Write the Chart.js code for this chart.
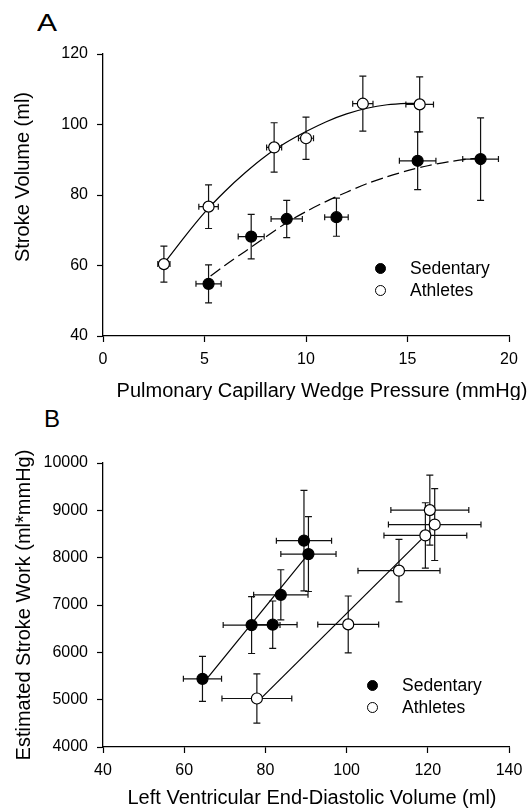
<!DOCTYPE html>
<html>
<head>
<meta charset="utf-8">
<script src="https://cdn.jsdelivr.net/npm/chart.js@4.4.1/dist/chart.umd.min.js"></script>
<style>
  body { margin: 0; background: #fff; }
  #wrap { position: relative; width: 532px; height: 811px; font-family: "Liberation Sans", Arial, sans-serif; color: #000; }
  canvas { position: absolute; left: 0; }
  .panel { position: absolute; font-size: 24px; line-height: 24px; }
  .legend { position: absolute; font-size: 17.5px; line-height: 21px; }
  .legend div { display: flex; align-items: center; height: 22px; }
  .mark { width: 9px; height: 9px; border-radius: 50%; border: 1.3px solid #000; margin-right: 24px; }
</style>
</head>
<body>
<div id="wrap">
  <div class="panel" style="left:37px; top:11px; transform:scaleX(1.25); transform-origin:left;">A</div>
  <div class="panel" style="left:44px; top:407px;">B</div>
  <canvas id="chartA" width="532" height="400" style="top:0"></canvas>
  <canvas id="chartB" width="532" height="411" style="top:400px"></canvas>
  <div class="legend" id="legendA" style="left:375px; top:257px;"></div>
  <div class="legend" id="legendB" style="left:367px; top:674px;"></div>
</div>
<script>
// series names and marker fills
const groups = ["Sedentary", "Athletes"];
const groupFill = ["#000", "#fff"];

// Panel A: PCWP (mmHg) vs stroke volume (ml)
const pcwpSed = [5.2, 7.3, 9.05, 11.5, 15.5, 18.6];
const svSed = [54.8, 68.2, 73.2, 73.7, 89.7, 90.2];
const pcwpSedErr = [0.62, 0.64, 0.77, 0.58, 0.9, 0.88];
const svSedErr = [5.4, 6.3, 5.3, 5.4, 8.2, 11.7];

const pcwpAth = [3.0, 5.2, 8.43, 10.0, 12.8, 15.6];
const svAth = [60.4, 76.7, 93.5, 96.1, 105.9, 105.7];
const pcwpAthErr = [0.3, 0.48, 0.37, 0.37, 0.5, 0.68];
const svAthErr = [5.1, 6.2, 7.0, 6.0, 7.8, 7.8];

// fitted curves
const fitSedX = [5.3, 6, 7, 8, 9, 10, 11, 12, 13, 14, 15, 16, 17, 18, 18.6];
const fitSedY = [57, 60, 64, 68, 72, 75.3, 78.2, 80.8, 83.2, 85.2, 86.9, 88.3, 89.4, 90.2, 90.5];
const fitAthX = [3, 4, 5, 6, 7, 8, 9, 10, 11, 12, 13, 14, 15, 15.5];
const fitAthY = [60.5, 68, 75, 81, 86.3, 91, 94.8, 98, 100.8, 103, 104.6, 105.6, 106, 106];

const ticksAX = [0, 5, 10, 15, 20];
const ticksAY = [40, 60, 80, 100, 120];

// Panel B: LVEDV (ml) vs estimated stroke work (ml*mmHg)
const edvSed = [64.5, 76.6, 81.8, 83.8, 89.5, 90.6];
const swSed = [5440, 6575, 6585, 7215, 8360, 8075];
const edvSedErr = [4.7, 7.0, 6.0, 6.7, 6.8, 6.8];
const swSedErr = [475, 600, 500, 530, 1060, 790];

const edvAth = [77.9, 100.4, 112.9, 119.4, 120.5, 121.7];
const swAth = [5025, 6590, 7725, 8470, 9005, 8700];
const edvAthErr = [8.6, 7.5, 10.1, 10.2, 9.6, 11.4];
const swAthErr = [520, 600, 660, 690, 740, 760];

const lineSedX = [65.2, 90.6];
const lineSedY = [5400, 8080];
const lineAthX = [78.6, 119.4];
const lineAthY = [5000, 8470];

const ticksBX = [40, 60, 80, 100, 120, 140];
const ticksBY = [4000, 5000, 6000, 7000, 8000, 9000, 10000];

const family = "'Liberation Sans', Arial, sans-serif";

function pts(xs, ys) {
  return xs.map((x, i) => ({ x: x, y: ys[i] }));
}

const errorBars = {
  id: "errorBars",
  beforeDatasetsDraw(chart) {
    const ctx = chart.ctx;
    const xs = chart.scales.x;
    const ys = chart.scales.y;
    ctx.save();
    ctx.strokeStyle = "#111";
    ctx.lineWidth = 1.2;
    chart.data.datasets.forEach((ds) => {
      if (!ds.xErr) return;
      ds.data.forEach((p, i) => {
        const cx = xs.getPixelForValue(p.x);
        const cy = ys.getPixelForValue(p.y);
        const x0 = xs.getPixelForValue(p.x - ds.xErr[i]);
        const x1 = xs.getPixelForValue(p.x + ds.xErr[i]);
        const y0 = ys.getPixelForValue(p.y - ds.yErr[i]);
        const y1 = ys.getPixelForValue(p.y + ds.yErr[i]);
        ctx.beginPath();
        ctx.moveTo(x0, cy); ctx.lineTo(x1, cy);
        ctx.moveTo(x0, cy - 3); ctx.lineTo(x0, cy + 3);
        ctx.moveTo(x1, cy - 3); ctx.lineTo(x1, cy + 3);
        ctx.moveTo(cx, y0); ctx.lineTo(cx, y1);
        ctx.moveTo(cx - 3.5, y0); ctx.lineTo(cx + 3.5, y0);
        ctx.moveTo(cx - 3.5, y1); ctx.lineTo(cx + 3.5, y1);
        ctx.stroke();
      });
    });
    ctx.restore();
  },
};

// axis titles, placed like in the original figure
const axisTitles = {
  id: "axisTitles",
  afterDraw(chart, args, opts) {
    const { ctx, chartArea } = chart;
    ctx.save();
    ctx.fillStyle = "#000";
    ctx.font = "20px " + family;
    ctx.textAlign = "center";
    ctx.textBaseline = "middle";
    ctx.fillText(opts.xText, (chartArea.left + chartArea.right) / 2 + opts.xShift, opts.xTitleY);
    ctx.translate(opts.yTitleX, opts.yTitleY);
    ctx.rotate(-Math.PI / 2);
    ctx.fillText(opts.yText, 0, 0);
    ctx.restore();
  },
};

function axis(ticks, isX, size) {
  return {
    type: "linear",
    position: isX ? "bottom" : "left",
    min: ticks[0],
    max: ticks[ticks.length - 1],
    afterBuildTicks: (s) => {
      s.ticks = ticks.map((v) => ({ value: v }));
    },
    afterFit: (s) => {
      if (isX) s.height = size;
      else s.width = size;
    },
    grid: { drawOnChartArea: false, drawTicks: true, tickLength: 6, tickColor: "#000", tickWidth: 1.2 },
    border: { display: true, color: "#000", width: 1.3 },
    ticks: {
      color: "#000",
      padding: isX ? 8 : 9,
      font: { size: 16, family: family },
      maxRotation: 0,
      autoSkip: false,
      callback: (v) => String(v),
    },
  };
}

function groupSet(i, xs, ys, xErr, yErr) {
  return {
    label: groups[i],
    data: pts(xs, ys),
    xErr: xErr,
    yErr: yErr,
    pointRadius: 5.5,
    pointBackgroundColor: groupFill[i],
    pointBorderColor: "#000",
    pointBorderWidth: 1.2,
    order: 0,
  };
}

function fitSet(xs, ys, dash, tension) {
  return {
    data: pts(xs, ys),
    showLine: true,
    borderColor: "#000",
    borderWidth: 1.2,
    borderDash: dash,
    pointRadius: 0,
    tension: tension,
    fill: false,
    order: 1,
  };
}

function makeChart(id, datasets, tx, ty, yWidth, titles) {
  return new Chart(document.getElementById(id), {
    type: "scatter",
    data: { datasets: datasets },
    options: {
      responsive: false,
      animation: false,
      devicePixelRatio: 1,
      layout: { padding: titles.padding, autoPadding: false },
      scales: { x: axis(tx, true, 64), y: axis(ty, false, yWidth) },
      plugins: {
        legend: { display: false },
        tooltip: { enabled: false },
        axisTitles: titles,
      },
    },
    plugins: [errorBars, axisTitles],
  });
}

makeChart(
  "chartA",
  [
    fitSet(fitSedX, fitSedY, [12, 5], 0.3),
    fitSet(fitAthX, fitAthY, [], 0.3),
    groupSet(0, pcwpSed, svSed, pcwpSedErr, svSedErr),
    groupSet(1, pcwpAth, svAth, pcwpAthErr, svAthErr),
  ],
  ticksAX, ticksAY, 103,
  {
    padding: { top: 54, right: 23, left: 0, bottom: 0 },
    xText: "Pulmonary Capillary Wedge Pressure (mmHg)",
    xShift: 16, xTitleY: 391,
    yText: "Stroke Volume (ml)",
    yTitleX: 23, yTitleY: 177,
  }
);

makeChart(
  "chartB",
  [
    fitSet(lineSedX, lineSedY, [], 0),
    fitSet(lineAthX, lineAthY, [], 0),
    groupSet(0, edvSed, swSed, edvSedErr, swSedErr),
    groupSet(1, edvAth, swAth, edvAthErr, swAthErr),
  ],
  ticksBX, ticksBY, 103,
  {
    padding: { top: 63, right: 23, left: 0, bottom: 0 },
    xText: "Left Ventricular End-Diastolic Volume (ml)",
    xShift: 6, xTitleY: 398,
    yText: "Estimated Stroke Work (ml*mmHg)",
    yTitleX: 24, yTitleY: 205,
  }
);

function buildLegend(id) {
  const box = document.getElementById(id);
  groups.forEach((name, i) => {
    const row = document.createElement("div");
    const mark = document.createElement("span");
    mark.className = "mark";
    mark.style.background = groupFill[i];
    row.appendChild(mark);
    row.appendChild(document.createTextNode(name));
    box.appendChild(row);
  });
}
buildLegend("legendA");
buildLegend("legendB");
</script>
</body>
</html>
